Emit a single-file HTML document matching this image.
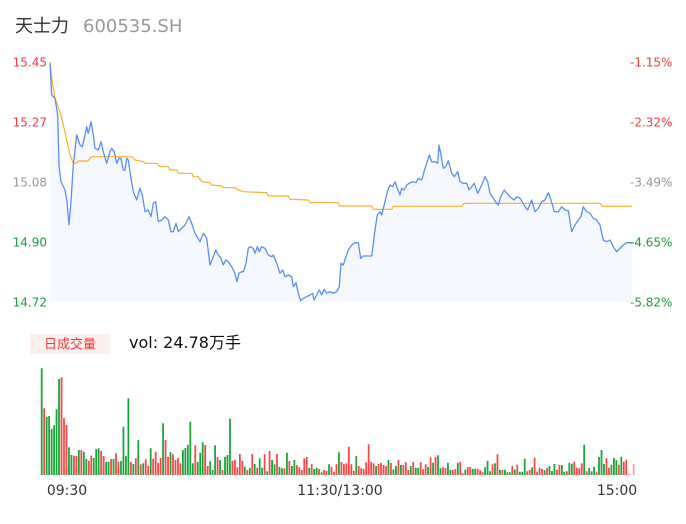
<!DOCTYPE html>
<html><head><meta charset="utf-8"><style>
html,body{margin:0;padding:0;background:#fff;}
svg{display:block;}
text{font-family:"DejaVu Sans","Liberation Sans","Noto Sans CJK SC",sans-serif;}
.cjk{font-family:"DejaVu Sans","Noto Sans CJK SC",sans-serif;}
</style></head><body>
<svg width="686" height="524" viewBox="0 0 686 524" xmlns="http://www.w3.org/2000/svg">
<rect width="686" height="524" fill="#fff"/>
<text x="15" y="32" font-size="18" fill="#333" class="cjk">天士力</text>
<text x="83" y="32" font-size="18" fill="#999">600535.SH</text>

<!-- price area fill -->
<polygon fill="#f5f8fe" points="50,63.3 51.7,95 55,98.3 57.7,115 59,165 61,181.7 65,190 67,201.7 69,225 71,201.7 73.3,165 76.7,135 80,145 82.3,146.7 85,135 86.7,126.7 88.3,133.3 91,121.7 93.3,135 95,148.3 98.3,150 101,141.7 103.3,151.7 106.7,163.3 110,151.7 111.7,148.3 114.3,151.7 116.7,163.3 119,158.3 121,158.3 123.3,170 125,170 126.7,158.3 128.3,160 131,178.3 133.3,191.7 136.7,200 140,188.3 142.3,195 145,211.7 148.3,210 151,216.7 153.3,203.3 155.7,201.7 158.3,221.7 161.7,220 165,216.7 168.3,220 171,231.7 173.3,231.7 176,223.3 178.3,231.7 181.7,228.3 185,225 189,216.7 191.7,223.3 195,233.3 200,241.7 203.3,233.3 206.7,238.3 210,265 213.3,256.7 215.7,250 218.3,255 221,258.3 223.3,265 225.7,260 228.3,261.7 231.7,266.7 234.3,271.7 237,281.7 239,273.3 241.7,271.7 243.3,271.7 246,263.3 248.3,248.3 250,246.7 253.3,248.3 255,253.3 257.3,246.7 259.3,251.7 261.7,246.7 265,248.3 268.3,255 271.7,256.7 273.3,255 276.7,263.3 280,273.3 282.7,270 285,276.7 288.3,275 291.7,276.7 293.3,286.7 296,282.7 298.3,293.3 300.7,300.7 303.3,298.3 306.7,296.7 310,295 312.7,293.3 314,300 316.7,295 319.3,290 321.7,295 324,289.3 326.7,293.3 330,291.7 333.3,293.3 336.7,291.7 339.3,286.7 341,263.3 343.3,265 346,256.7 348.3,250 351.7,245 355,242.7 358.3,242.7 360.7,258.3 363.3,256 371.7,256 375,230 377.3,215 380,211.7 381.7,215 385,201.7 387.3,191.7 390,185 392.7,186.7 395,181.7 397.3,188.3 400,195 401.7,188.3 404,190 406.7,185 410,182.7 413.3,181.7 416,182.7 418.3,178.3 421.7,180 425,168.3 427.3,161.7 429.3,155 431.7,161.7 435,161.7 437.7,163.3 439,145 441,155 443.3,168.3 445.7,166.7 448.3,160.7 451.7,173.3 454.3,176.7 457.7,171.7 460,181.7 463.3,183.3 466.7,183.3 469,190 471.7,186.7 474.3,183.3 477.7,193.3 481.7,185 485,176.7 487.7,181.7 490,193.3 493.3,198.3 496.7,203.3 498.3,205 500.7,196.7 504.3,190 508.3,195 511.7,198.3 514.3,200 516.7,196.7 520,198.3 522.3,201.7 525,206.7 527.7,210 531.7,200 535,211.7 538.3,208.3 541.7,201.7 545,200 548.3,192.7 551,200 554.3,211.7 558.3,211.7 561.7,206.7 565,210 568.3,210.7 571.7,231.7 575,225 578.3,220 581,216.7 583.3,206.7 586.7,211.7 590,213.3 593.3,218.3 596.7,220 600,225 603.3,240 606.7,241.7 610,240 613.3,246.7 616.7,251.7 620,248.3 623.3,245 626.7,242.7 631.7,242.7 631.7,302 50,302"/>

<!-- avg price line -->
<polyline fill="none" stroke="#f7b02a" stroke-width="1.2" stroke-linejoin="round" points="50,62 52,80 55,98 60,112 65,132 70,155 73.3,163.3 76.7,163 78.3,161 88,161 90,158.3 91.7,156.7 131.7,156.7 135,160 143.3,161.7 145,163.3 156.7,163.3 160,166.7 168.3,166.7 170,170 176.7,170 178.3,173.3 191.7,173.3 193.3,176.7 198.3,176.7 201.7,181.7 210,182.7 211.7,185 221.7,186 223.3,187.7 235,187.7 238.3,190 243.3,191.7 266.7,192.7 268.3,196 288.3,196 290,199.3 308.3,200 310,202.7 338.3,202.7 339.3,206 371.7,206 373.3,209.3 391.7,209.3 393.3,206.3 461.7,206.3 464.3,203.3 600,203.3 602.3,206.3 631.7,206.3"/>

<!-- price line -->
<polyline fill="none" stroke="#5b8ef4" stroke-width="1.3" stroke-linejoin="round" points="50,63.3 51.7,95 55,98.3 57.7,115 59,165 61,181.7 65,190 67,201.7 69,225 71,201.7 73.3,165 76.7,135 80,145 82.3,146.7 85,135 86.7,126.7 88.3,133.3 91,121.7 93.3,135 95,148.3 98.3,150 101,141.7 103.3,151.7 106.7,163.3 110,151.7 111.7,148.3 114.3,151.7 116.7,163.3 119,158.3 121,158.3 123.3,170 125,170 126.7,158.3 128.3,160 131,178.3 133.3,191.7 136.7,200 140,188.3 142.3,195 145,211.7 148.3,210 151,216.7 153.3,203.3 155.7,201.7 158.3,221.7 161.7,220 165,216.7 168.3,220 171,231.7 173.3,231.7 176,223.3 178.3,231.7 181.7,228.3 185,225 189,216.7 191.7,223.3 195,233.3 200,241.7 203.3,233.3 206.7,238.3 210,265 213.3,256.7 215.7,250 218.3,255 221,258.3 223.3,265 225.7,260 228.3,261.7 231.7,266.7 234.3,271.7 237,281.7 239,273.3 241.7,271.7 243.3,271.7 246,263.3 248.3,248.3 250,246.7 253.3,248.3 255,253.3 257.3,246.7 259.3,251.7 261.7,246.7 265,248.3 268.3,255 271.7,256.7 273.3,255 276.7,263.3 280,273.3 282.7,270 285,276.7 288.3,275 291.7,276.7 293.3,286.7 296,282.7 298.3,293.3 300.7,300.7 303.3,298.3 306.7,296.7 310,295 312.7,293.3 314,300 316.7,295 319.3,290 321.7,295 324,289.3 326.7,293.3 330,291.7 333.3,293.3 336.7,291.7 339.3,286.7 341,263.3 343.3,265 346,256.7 348.3,250 351.7,245 355,242.7 358.3,242.7 360.7,258.3 363.3,256 371.7,256 375,230 377.3,215 380,211.7 381.7,215 385,201.7 387.3,191.7 390,185 392.7,186.7 395,181.7 397.3,188.3 400,195 401.7,188.3 404,190 406.7,185 410,182.7 413.3,181.7 416,182.7 418.3,178.3 421.7,180 425,168.3 427.3,161.7 429.3,155 431.7,161.7 435,161.7 437.7,163.3 439,145 441,155 443.3,168.3 445.7,166.7 448.3,160.7 451.7,173.3 454.3,176.7 457.7,171.7 460,181.7 463.3,183.3 466.7,183.3 469,190 471.7,186.7 474.3,183.3 477.7,193.3 481.7,185 485,176.7 487.7,181.7 490,193.3 493.3,198.3 496.7,203.3 498.3,205 500.7,196.7 504.3,190 508.3,195 511.7,198.3 514.3,200 516.7,196.7 520,198.3 522.3,201.7 525,206.7 527.7,210 531.7,200 535,211.7 538.3,208.3 541.7,201.7 545,200 548.3,192.7 551,200 554.3,211.7 558.3,211.7 561.7,206.7 565,210 568.3,210.7 571.7,231.7 575,225 578.3,220 581,216.7 583.3,206.7 586.7,211.7 590,213.3 593.3,218.3 596.7,220 600,225 603.3,240 606.7,241.7 610,240 613.3,246.7 616.7,251.7 620,248.3 623.3,245 626.7,242.7 631.7,242.7"/>

<!-- left axis labels -->
<g font-size="12" text-anchor="end">
<text x="47" y="66.3" fill="#f23d3d">15.45</text>
<text x="47" y="126.3" fill="#f23d3d">15.27</text>
<text x="47" y="186.3" fill="#999">15.08</text>
<text x="47" y="246.3" fill="#1a9e3c">14.90</text>
<text x="47" y="306.3" fill="#1a9e3c">14.72</text>
</g>
<!-- right axis labels -->
<g font-size="12">
<text x="630" y="66.3" fill="#f23d3d">-1.15%</text>
<text x="630" y="126.3" fill="#f23d3d">-2.32%</text>
<text x="630" y="186.3" fill="#999">-3.49%</text>
<text x="630" y="246.3" fill="#1a9e3c">-4.65%</text>
<text x="630" y="306.3" fill="#1a9e3c">-5.82%</text>
</g>

<!-- volume legend -->
<rect x="30" y="334" width="80" height="20" fill="#fdf0ec"/>
<text x="70" y="348.5" font-size="13" fill="#f23d3d" text-anchor="middle" class="cjk">日成交量</text>
<text x="129" y="348" font-size="16" fill="#111" class="cjk">vol: 24.78万手</text>

<!-- volume bars -->
<g transform="translate(41.7,475) scale(2.477,-1)" fill="none" stroke-width="0.72">
<path stroke="#1aa53b" d="M0 0v106.7M2 0v58M3 0v59M4 0v46M5 0v49.7M6 0v65.7M7 0v96M11 0v27.7M12 0v20M15 0v25M17 0v23.3M18 0v16M21 0v17M22 0v26M23 0v26.7M26 0v13M27 0v13.3M29 0v16M32 0v14M33 0v48.3M34 0v19M35 0v76.7M37 0v11M39 0v35M41 0v11.7M44 0v26.7M49 0v51.7M52 0v23M57 0v25M58 0v27M59 0v30.3M60 0v53.3M61 0v11.7M63 0v13M64 0v22.3M65 0v32.7M68 0v13.7M69 0v5M70 0v29.7M72 0v15M74 0v18.3M75 0v20M76 0v56.3M82 0v8.3M84 0v7.3M86 0v11M88 0v16.7M89 0v7.3M91 0v3.7M93 0v15M94 0v10.7M96 0v8.3M97 0v6.7M99 0v22.3M101 0v9M102 0v15M108 0v7.3M110 0v6M111 0v7.3M113 0v2.7M116 0v10.7M120 0v22.7M127 0v19M135 0v9M140 0v15M142 0v5.7M143 0v9M145 0v10M149 0v9M151 0v7.3M152 0v7.3M156 0v8M158 0v12.3M160 0v19.7M161 0v6.7M164 0v12.3M165 0v5M168 0v12M171 0v5.3M174 0v6M175 0v6.3M179 0v7.7M180 0v14.3M181 0v3.7M183 0v11.7M185 0v5.3M187 0v5.3M188 0v2.7M189 0v2.7M191 0v5.3M193 0v3.3M194 0v3.3M195 0v16.3M198 0v7.7M203 0v4.7M205 0v9M206 0v4M207 0v11M210 0v10M211 0v3.3M213 0v12.3M214 0v11.3M219 0v30.3M221 0v7M222 0v3.7M223 0v8.3M225 0v18M226 0v25M227 0v11M230 0v10.3M231 0v17M232 0v15M234 0v18.3"/>
<path stroke="#f5484a" d="M1 0v66.7M8 0v97.7M9 0v57M10 0v50M13 0v19.3M14 0v19M16 0v25M19 0v14.3M20 0v19.3M24 0v24.3M25 0v19M28 0v16M30 0v21.7M31 0v13.3M36 0v13M38 0v16.7M40 0v10.7M42 0v15.7M43 0v9M45 0v16.3M46 0v23.3M47 0v12M48 0v17M50 0v35M51 0v18.3M53 0v20.7M54 0v15M55 0v17M56 0v11.7M62 0v29.7M66 0v30M67 0v9M71 0v18M73 0v5M77 0v14.3M78 0v15M79 0v7.7M80 0v21M81 0v14M83 0v5M85 0v21M87 0v7.3M90 0v20.7M92 0v24M95 0v21M98 0v6.7M100 0v14M103 0v10M104 0v7.7M105 0v5M106 0v16.7M107 0v18M109 0v10.7M112 0v6M114 0v5M115 0v4M117 0v8.3M118 0v3.3M119 0v10.7M121 0v13M122 0v11M123 0v11.7M124 0v28.3M125 0v10.7M126 0v4.3M128 0v9M129 0v6.7M130 0v6M131 0v12.7M132 0v30.7M133 0v13M134 0v11.7M136 0v11M137 0v12M138 0v10M139 0v9M141 0v12M144 0v15M146 0v10M147 0v12.7M148 0v5M150 0v13M153 0v12.7M154 0v5.7M155 0v10.7M157 0v17.7M159 0v18.3M162 0v7.7M163 0v7M166 0v5M167 0v6M169 0v13.3M170 0v1.7M172 0v8M173 0v8M176 0v6.3M177 0v4.7M178 0v2.7M182 0v10.7M184 0v20.7M186 0v5M190 0v9.3M192 0v10.3M196 0v3.7M197 0v5M199 0v17.3M200 0v3.3M201 0v7.3M202 0v6M204 0v7.3M208 0v5.3M209 0v10.3M212 0v3.7M215 0v13.3M216 0v7.3M217 0v6.7M218 0v11.7M220 0v3.7M224 0v3.3M228 0v16.7M229 0v7.3M233 0v10.3M235 0v13.3M236 0v15.3M237 0v0.7"/>
<path stroke="#f9a3a3" d="M239 0v11"/>
</g>

<!-- x axis labels -->
<g font-size="14" fill="#333" text-anchor="middle">
<text x="67" y="495">09:30</text>
<text x="340" y="495">11:30/13:00</text>
<text x="617" y="495">15:00</text>
</g>
</svg>
</body></html>
